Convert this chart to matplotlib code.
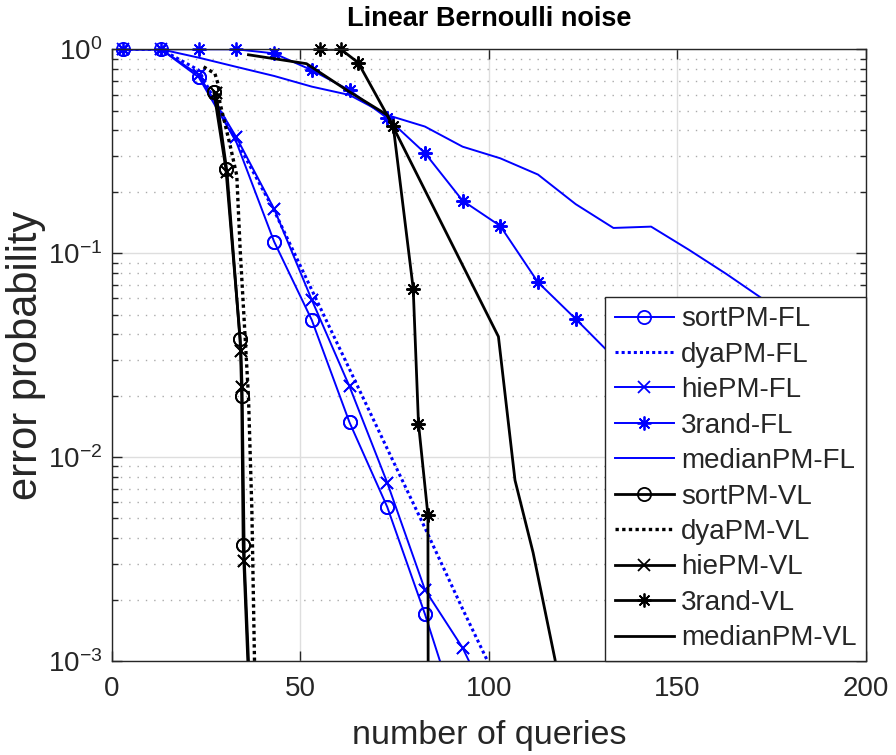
import numpy as np
import matplotlib.pyplot as plt
from matplotlib.ticker import LogLocator, NullFormatter

plt.rcParams['font.family'] = ['Liberation Sans', 'DejaVu Sans']
plt.rcParams['mathtext.fontset'] = 'custom'
plt.rcParams['mathtext.rm'] = 'Liberation Sans'

# fixed-length (FL) curves
sort_fl_x = [3, 13, 23, 33, 43, 53, 63, 73, 83, 93]
sort_fl_y = [1.0, 1.0, 0.73, 0.35, 0.114, 0.047, 0.0148, 0.0057, 0.0017, 0.00045]
sort_fl_marks = [0, 1, 2, 4, 5, 6, 7, 8, 9]   # no circle visible at x=33

dya_fl_x = [3, 13, 23, 33, 43, 53, 63, 73, 83, 93, 103]
dya_fl_y = [1.0, 1.0, 0.79, 0.355, 0.162, 0.066, 0.027, 0.011, 0.0045, 0.0018, 0.00074]

hie_fl_x = [3, 13, 23, 33, 43, 53, 63, 73, 83, 93, 103]
hie_fl_y = [1.0, 1.0, 0.75, 0.37, 0.165, 0.059, 0.0222, 0.0075, 0.00224, 0.00116, 0.00048]

rand_fl_x = [3, 13, 23, 33, 43, 53, 63, 73, 83, 93, 103, 113, 123, 133]
rand_fl_y = [1.0, 1.0, 1.0, 1.0, 0.955, 0.79, 0.63, 0.46, 0.31, 0.181, 0.136, 0.072, 0.0476, 0.031]

med_fl_x = [3, 13, 23, 33, 43, 53, 63, 73, 83, 93, 103, 113, 123, 133, 143, 153, 163, 173, 183]
med_fl_y = [1.0, 1.0, 0.91, 0.82, 0.74, 0.656, 0.597, 0.476, 0.418, 0.333, 0.292, 0.243,
            0.174, 0.133, 0.135, 0.104, 0.079, 0.059, 0.045]

# variable-length (VL) curves
sort_vl_x = [27.0, 30.2, 34.0, 34.4, 34.8, 36.5]
sort_vl_y = [0.62, 0.26, 0.038, 0.020, 0.0037, 0.0006]

dya_vl_x = [24.3, 27.3, 28.2, 28.6, 31.3, 33.1, 34.0, 36.2, 37.1, 37.8, 38.0]
dya_vl_y = [0.82, 0.76, 0.67, 0.55, 0.34, 0.24, 0.104, 0.0198, 0.0055, 0.001, 0.0007]

hie_vl_x = [27.6, 30.5, 34.2, 34.5, 35.1, 36.7]
hie_vl_y = [0.61, 0.25, 0.033, 0.022, 0.0031, 0.0006]

rand_vl_x = [55.2, 60.7, 65.3, 74.6, 79.9, 81.3, 83.8, 83.9]
rand_vl_y = [1.0, 1.0, 0.86, 0.42, 0.067, 0.0146, 0.0052, 0.0003]

med_vl_x = [36.2, 44.6, 51.6, 62.3, 73.0, 102.5, 106.9, 111.7, 117.5, 119.0]
med_vl_y = [0.94, 0.89, 0.85, 0.63, 0.476, 0.039, 0.0077, 0.0034, 0.00102, 0.0007]

BLUE = "#0000ff"
BLACK = "#000000"
GREY = "#262626"
ASTER = (8, 2, 0)
DOT = (0, (1, 1))

fig = plt.figure(figsize=(8.96, 7.55), dpi=100)
ax = fig.add_axes([0.125, 0.1245, 0.8415, 0.8102])


def draw(x, y, color, ls, marker, ms, lw, label, marks=None):
    x = np.asarray(x)
    y = np.asarray(y)
    idx = np.arange(len(x)) if marks is None else np.asarray(marks)
    ax.plot(x, y, color=color, ls=ls, lw=lw, marker=marker, ms=ms, mfc="none",
            mec=color, mew=1.3, label=label, dash_capstyle="butt",
            markevery=list(idx))
    # markers sitting on the top edge are not clipped (MATLAB style)
    if marker is not None:
        m = idx[y[idx] >= 1e-3]
        ax.plot(x[m], y[m], ls="none", marker=marker, ms=ms, mfc="none",
                mec=color, mew=1.3, clip_on=False)


draw(sort_fl_x, sort_fl_y, BLUE, "-", "o", 9.5, 1.4, "sortPM-FL", sort_fl_marks)
draw(dya_fl_x, dya_fl_y, BLUE, DOT, None, 0, 2.2, "dyaPM-FL")
draw(hie_fl_x, hie_fl_y, BLUE, "-", "x", 8, 1.4, "hiePM-FL")
draw(rand_fl_x, rand_fl_y, BLUE, "-", ASTER, 10, 1.4, "3rand-FL")
draw(med_fl_x, med_fl_y, BLUE, "-", None, 0, 1.4, "medianPM-FL")

draw(sort_vl_x, sort_vl_y, BLACK, "-", "o", 9.5, 2.0, "sortPM-VL")
draw(dya_vl_x, dya_vl_y, BLACK, DOT, None, 0, 2.4, "dyaPM-VL")
draw(hie_vl_x, hie_vl_y, BLACK, "-", "x", 8, 2.0, "hiePM-VL")
draw(rand_vl_x, rand_vl_y, BLACK, "-", ASTER, 10, 2.0, "3rand-VL")
draw(med_vl_x, med_vl_y, BLACK, "-", None, 0, 2.0, "medianPM-VL")

ax.set_yscale("log")
ax.set_xlim(0, 200)
ax.set_ylim(1e-3, 1)
ax.set_xticks([0, 50, 100, 150, 200])
ax.yaxis.set_major_locator(LogLocator(base=10, numticks=10))
ax.yaxis.set_minor_locator(LogLocator(base=10, subs=np.arange(2, 10), numticks=10))
ax.yaxis.set_minor_formatter(NullFormatter())

ax.set_axisbelow(True)
ax.grid(True, which="major", color="#dedede", lw=1.0, ls="-")
ax.grid(True, which="minor", axis="y", color="#aaaaaa", lw=1.0, ls=(0, (1, 5)))

ax.tick_params(which="both", direction="in", top=True, right=True, colors=GREY,
               labelcolor=GREY, labelsize=20)
ax.tick_params(which="major", length=7, width=1)
ax.tick_params(which="minor", length=4, width=1)
ax.tick_params(axis="x", pad=11)
ax.tick_params(axis="y", pad=7)
for s in ax.spines.values():
    s.set_color(GREY)
    s.set_linewidth(1.0)

ax.set_xlabel("number of queries", fontsize=24.5, color=GREY, labelpad=13)
ax.set_ylabel("error probability", fontsize=30, color=GREY, labelpad=1)
ax.set_title("Linear Bernoulli noise", fontsize=19.5, fontweight="bold", pad=16.5)

leg = ax.legend(loc="lower right", borderaxespad=0, fontsize=20, fancybox=False,
                framealpha=1, edgecolor=GREY, handlelength=2.1,
                handletextpad=0.26, borderpad=0.35, labelspacing=0.34, numpoints=1)
leg.get_frame().set_linewidth(1.0)
for t in leg.get_texts():
    t.set_color(GREY)

fig.savefig("out.png", dpi=100)
